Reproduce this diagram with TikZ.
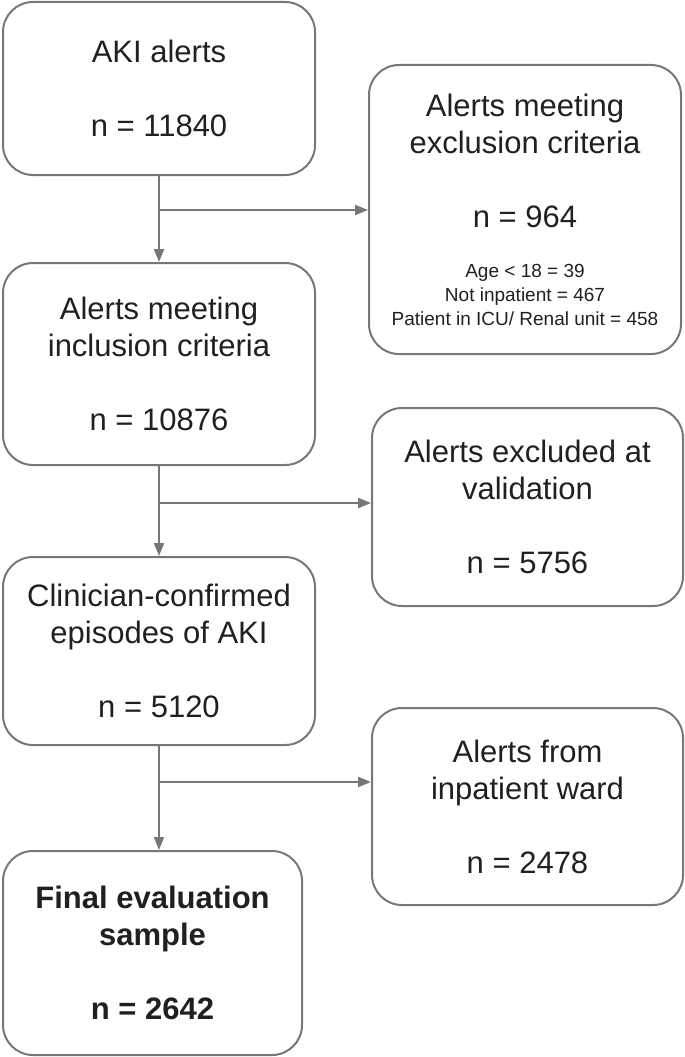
\documentclass[tikz,border=0pt]{standalone}
\usepackage{fontspec}
\setmainfont{Liberation Sans}
\usetikzlibrary{arrows.meta,calc}
\definecolor{linegray}{HTML}{76777A}
\definecolor{txt}{HTML}{231F20}
\begin{document}
\begin{tikzpicture}[x=1pt,y=-1pt,
  box/.style={draw=linegray, line width=2pt, rounded corners=30pt, align=center,
    text=txt, inner sep=0pt, font=\fontsize{31}{37}\selectfont},
  conn/.style={draw=linegray, line width=2pt, -{Triangle[length=13pt,width=10pt]}}]
\useasboundingbox (0,0) rectangle (685,1057);
\node[box, minimum width=312pt, minimum height=173pt] (b1) at (159,88.5)
  {AKI alerts\\[37pt]n = 11840};
\node[box, minimum width=312pt, minimum height=289pt] (ex) at (525,209.5)
  {Alerts meeting\\exclusion criteria\\[37pt]n = 964\\[13pt]
   {\fontsize{19}{24}\selectfont Age < 18 = 39}\\[-13pt]
   {\fontsize{19}{24}\selectfont Not inpatient = 467}\\[-13pt]
   {\fontsize{19}{24}\selectfont Patient in ICU/ Renal unit = 458}};
\node[box, minimum width=312pt, minimum height=202pt] (b2) at (159,364)
  {Alerts meeting\\inclusion criteria\\[37pt]n = 10876};
\node[box, minimum width=311pt, minimum height=198pt] (val) at (527.5,507)
  {Alerts excluded at\\validation\\[37pt]n = 5756};
\node[box, minimum width=312pt, minimum height=188pt] (b3) at (159,651)
  {Clinician-confirmed\\episodes of AKI\\[37pt]n = 5120};
\node[box, minimum width=311pt, minimum height=197pt] (ward) at (527.5,806.5)
  {Alerts from\\inpatient ward\\[37pt]n = 2478};
\node[box, minimum width=299pt, minimum height=204pt, font=\fontsize{31}{37}\selectfont\bfseries] (fin) at (152.5,953)
  {Final evaluation\\sample\\[37pt]n = 2642};
\coordinate (j1) at ($(b1.south)+(0,34)$);
\coordinate (j2) at ($(b2.south)+(0,37)$);
\coordinate (j3) at ($(b3.south)+(0,36)$);
\draw[conn] (b1.south) -- (b2.north);
\draw[conn] (j1) -- (j1 -| ex.west);
\draw[conn] (b2.south) -- (b3.north);
\draw[conn] (j2) -- (j2 -| val.west);
\draw[conn] (b3.south) -- (b3.south |- fin.north);
\draw[conn] (j3) -- (j3 -| ward.west);
\end{tikzpicture}
\end{document}
